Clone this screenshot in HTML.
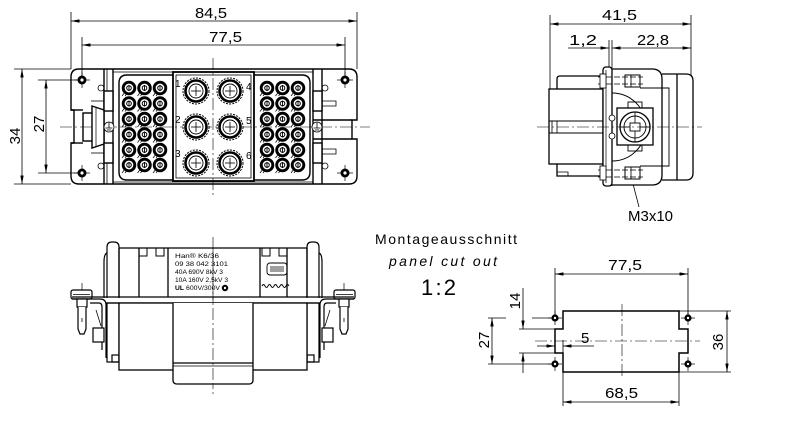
<!DOCTYPE html>
<html><head><meta charset="utf-8"><style>
html,body{margin:0;padding:0;background:#fff;}
svg{display:block;}
text{font-family:"Liberation Sans",sans-serif;fill:#000;stroke:none;}
</style></head><body>
<svg width="800" height="435" viewBox="0 0 800 435" xmlns="http://www.w3.org/2000/svg">
<defs>
<marker id="ar" viewBox="0 0 10 4" refX="10" refY="2" markerWidth="9" markerHeight="3.4" markerUnits="userSpaceOnUse" orient="auto-start-reverse"><path d="M0,0L10,2L0,4z" fill="#000"/></marker>
</defs>
<rect width="800" height="435" fill="#fff"/>

<!-- ================= TOP-LEFT VIEW ================= -->
<g fill="none" stroke="#000" stroke-width="0.8">
<line x1="71" y1="12" x2="71" y2="69"/>
<line x1="357" y1="12" x2="357" y2="69"/>
<line x1="71" y1="21" x2="357" y2="21" marker-start="url(#ar)" marker-end="url(#ar)"/>
<line x1="82" y1="37" x2="82" y2="80"/>
<line x1="345" y1="37" x2="345" y2="80"/>
<line x1="82" y1="45" x2="345" y2="45" marker-start="url(#ar)" marker-end="url(#ar)"/>
<line x1="14" y1="69" x2="71" y2="69"/>
<line x1="14" y1="184" x2="71" y2="184"/>
<line x1="22" y1="69" x2="22" y2="184" marker-start="url(#ar)" marker-end="url(#ar)"/>
<line x1="38" y1="80" x2="82" y2="80"/>
<line x1="38" y1="173" x2="82" y2="173"/>
<line x1="46" y1="80" x2="46" y2="173" marker-start="url(#ar)" marker-end="url(#ar)"/>
</g>
<text x="195" y="18" font-size="15" textLength="32" lengthAdjust="spacingAndGlyphs">84,5</text>
<text x="209" y="42" font-size="15" textLength="33" lengthAdjust="spacingAndGlyphs">77,5</text>
<text transform="translate(20,136) rotate(-90)" font-size="15" text-anchor="middle">34</text>
<text transform="translate(44,124) rotate(-90)" font-size="15" text-anchor="middle">27</text>

<!-- centerlines -->
<g stroke="#000" stroke-width="0.6" stroke-dasharray="12,3,2,3" fill="none">
<line x1="60" y1="127" x2="370" y2="127"/>
<line x1="213" y1="58" x2="213" y2="198"/>
</g>

<g fill="none" stroke="#000" stroke-width="1.4">
<path d="M79,69 H349 Q357,69 357,77 V120 H352 V139 H357 V176 Q357,184 349,184 H79 Q71,184 71,176 V143 H74 V110 H71 V77 Q71,69 79,69 Z"/>
<line x1="104" y1="69" x2="104" y2="184"/>
<line x1="107" y1="69" x2="107" y2="91" stroke-width="0.8"/>
<line x1="107" y1="163" x2="107" y2="184" stroke-width="0.8"/>
<line x1="113" y1="69" x2="113" y2="184"/>
<line x1="313" y1="69" x2="313" y2="184"/>
<line x1="322" y1="69" x2="322" y2="184"/>
<line x1="113" y1="72" x2="313" y2="72" stroke-width="0.7"/>
<line x1="113" y1="182" x2="313" y2="182" stroke-width="0.7"/>
<line x1="313" y1="120" x2="352" y2="120"/>
<line x1="313" y1="139" x2="352" y2="139"/>
<line x1="71" y1="110" x2="83" y2="110"/>
<line x1="71" y1="143" x2="83" y2="143"/>
<!-- left screw cylinder & lever -->
<rect x="83" y="113" width="10" height="28"/>
<path d="M92,106 L104,110 V144 L92,148 Z" fill="#fff"/>
<line x1="96" y1="108" x2="96" y2="146" stroke-width="0.7"/>
<!-- clips left -->
<rect x="104" y="91" width="9" height="20" fill="#fff"/>
<rect x="104" y="143" width="9" height="20" fill="#fff"/>
<line x1="91" y1="101" x2="104" y2="101" stroke-width="0.8"/>
<line x1="91" y1="153" x2="104" y2="153" stroke-width="0.8"/>
<circle cx="101" cy="88" r="3" stroke-width="0.8"/>
<circle cx="101" cy="166" r="3" stroke-width="0.8"/>
<!-- clips right -->
<rect x="313" y="91" width="9" height="20" fill="#fff"/>
<rect x="313" y="143" width="9" height="20" fill="#fff"/>
<path d="M322,101 H336 V106 H322" stroke-width="0.8"/>
<path d="M322,149 H336 V154 H322" stroke-width="0.8"/>
<circle cx="325" cy="88" r="3" stroke-width="0.8"/>
<circle cx="325" cy="166" r="3" stroke-width="0.8"/>
<!-- pin areas -->
<path d="M173,75 H127 Q119,75 119,83 V172 Q119,180 127,180 H173"/>
<path d="M254,75 H302 Q310,75 310,83 V172 Q310,180 302,180 H254"/>
<rect x="173" y="72" width="81" height="109" stroke-width="1.8"/>
<rect x="176" y="75" width="75" height="103" stroke-width="0.8"/>
</g>

<!-- ground symbols -->
<g fill="#fff" stroke="#000" stroke-width="0.8">
<circle cx="109" cy="127" r="5"/>
<circle cx="317" cy="127" r="5"/>
<path d="M109,122.5V128M105.5,128H112.5M107,130H111M317,122.5V128M313.5,128H320.5M315,130H319" fill="none"/>
</g>

<!-- mounting holes -->
<g stroke="#000" stroke-width="0.7">
<line x1="74" y1="80" x2="90" y2="80"/><line x1="82" y1="72" x2="82" y2="88"/>
<line x1="74" y1="173" x2="90" y2="173"/><line x1="82" y1="165" x2="82" y2="181"/>
<line x1="337" y1="80" x2="353" y2="80"/><line x1="345" y1="72" x2="345" y2="88"/>
<line x1="337" y1="173" x2="353" y2="173"/><line x1="345" y1="165" x2="345" y2="181"/>
</g>
<g fill="#000">
<circle cx="82" cy="80" r="4.5"/><circle cx="82" cy="173" r="4.5"/>
<circle cx="345" cy="80" r="4.5"/><circle cx="345" cy="173" r="4.5"/>
</g>
<g fill="#fff">
<circle cx="82" cy="80" r="1.6"/><circle cx="82" cy="173" r="1.6"/>
<circle cx="345" cy="80" r="1.6"/><circle cx="345" cy="173" r="1.6"/>
</g>

<!-- small pins -->
<defs>
<g id="sp">
<path d="M-7,8 L-4,4 M-4,8 L-1,4" stroke="#000" stroke-width="0.7" fill="none"/>
<circle r="5.8" fill="#fff" stroke="#000" stroke-width="2.9"/>
<circle r="2.3" fill="none" stroke="#000" stroke-width="1"/>
<line x1="0" y1="-3" x2="0" y2="3" stroke="#000" stroke-width="0.9"/>
</g>
<g id="row3">
<use href="#sp" x="0"/><use href="#sp" x="15.5"/><use href="#sp" x="31"/>
</g>
<g id="bp">
<circle r="13" fill="#fff" stroke="#000" stroke-width="1" stroke-dasharray="2,1.2"/>
<circle r="10.5" fill="#fff" stroke="#000" stroke-width="2.6"/>
<circle r="7" fill="none" stroke="#000" stroke-width="0.9"/>
<line x1="-5" y1="0" x2="5" y2="0" stroke="#000" stroke-width="0.8"/>
<line x1="0" y1="-5" x2="0" y2="5" stroke="#000" stroke-width="0.8"/>
</g>
</defs>
<use href="#row3" x="129" y="88"/><use href="#row3" x="129" y="103.5"/><use href="#row3" x="129" y="119"/>
<use href="#row3" x="129" y="134.5"/><use href="#row3" x="129" y="150"/><use href="#row3" x="129" y="165"/>
<use href="#row3" x="267" y="88"/><use href="#row3" x="267" y="103.5"/><use href="#row3" x="267" y="119"/>
<use href="#row3" x="267" y="134.5"/><use href="#row3" x="267" y="150"/><use href="#row3" x="267" y="165"/>
<use href="#bp" x="196" y="91"/><use href="#bp" x="196" y="127"/><use href="#bp" x="196" y="163"/>
<use href="#bp" x="230" y="91"/><use href="#bp" x="230" y="127"/><use href="#bp" x="230" y="163"/>
<g font-size="10">
<text x="175" y="87">1</text><text x="175" y="123">2</text><text x="175" y="157">3</text>
<text x="246" y="90">4</text><text x="246" y="124">5</text><text x="246" y="159">6</text>
</g>

<!-- ================= TOP-RIGHT VIEW ================= -->
<g fill="none" stroke="#000" stroke-width="0.8">
<line x1="550" y1="15" x2="550" y2="89"/>
<line x1="691" y1="15" x2="691" y2="76"/>
<line x1="550" y1="24" x2="691" y2="24" marker-start="url(#ar)" marker-end="url(#ar)"/>
<line x1="568" y1="48" x2="609" y2="48" marker-end="url(#ar)"/>
<line x1="612" y1="48" x2="691" y2="48" marker-start="url(#ar)" marker-end="url(#ar)"/>
<line x1="609" y1="40" x2="609" y2="186"/>
<line x1="612" y1="40" x2="612" y2="186"/>
<line x1="632" y1="180" x2="639" y2="207"/>
</g>
<text x="602" y="20" font-size="15" textLength="35" lengthAdjust="spacingAndGlyphs">41,5</text>
<text x="569" y="45" font-size="15" textLength="28" lengthAdjust="spacingAndGlyphs">1,2</text>
<text x="637" y="45" font-size="15" textLength="32" lengthAdjust="spacingAndGlyphs">22,8</text>
<text x="628" y="221" font-size="15" textLength="45" lengthAdjust="spacingAndGlyphs">M3x10</text>

<g fill="none" stroke="#000" stroke-width="1.3">
<rect x="549" y="89" width="54" height="75"/>
<path d="M603,89 V76 H560 Q557,76 557,79 V89"/>
<path d="M603,164 V176 H557 V164"/>
<path d="M557,172 H568 V176" stroke-width="0.8"/>
<line x1="549" y1="121" x2="603" y2="121" stroke-width="0.9"/>
<line x1="549" y1="133" x2="603" y2="133" stroke-width="0.9"/>
<path d="M552,121 V133 M557,121 V133" stroke-width="0.8"/>
<path d="M662,74 H686 Q693,74 693,81 V173 Q693,180 686,180 H662"/>
<line x1="677" y1="74" x2="677" y2="180"/>
<path d="M612,69 H652 Q662,69 662,79 V175 Q662,185 652,185 H612" fill="#fff"/>
<path d="M640,88 H669 V166 H640" stroke-width="0.9"/>
<path d="M612,93 A34,34 0 0 1 612,161" stroke-width="1"/>
<rect x="603" y="67" width="9" height="119" rx="3" fill="#fff"/>
<line x1="606" y1="70" x2="606" y2="183" stroke-width="0.7"/>
<circle cx="612" cy="118" r="3" stroke-width="0.8" fill="#fff"/>
<circle cx="612" cy="136" r="3" stroke-width="0.8" fill="#fff"/>
<!-- screws -->
<path d="M598,77 H643 M598,84 H643 M598,170 H643 M598,177 H643" stroke-width="0.8" stroke-dasharray="6,2"/>
<rect x="625" y="75" width="15" height="12" stroke-width="1"/>
<rect x="625" y="167" width="15" height="12" stroke-width="1"/>
<path d="M631,75V87M631,167V179" stroke-width="0.8"/>
<rect x="600" y="74" width="6" height="14" stroke-width="0.8" fill="#fff"/>
<rect x="600" y="166" width="6" height="14" stroke-width="0.8" fill="#fff"/>
<!-- center -->
<rect x="628" y="102" width="14" height="6" stroke-width="0.9"/>
<rect x="628" y="145" width="14" height="6" stroke-width="0.9"/>
<rect x="617" y="108" width="36" height="37" fill="#fff"/>
<circle cx="635" cy="127" r="15"/>
<circle cx="635" cy="127" r="11" stroke-width="0.9"/>
<rect x="630" y="123" width="10" height="8" stroke-width="0.9"/>
<path d="M635,112V123M635,131V142M620,127H630M640,127H650" stroke-width="0.8"/>
</g>
<line x1="537" y1="127" x2="702" y2="127" stroke="#000" stroke-width="0.6" stroke-dasharray="12,3,2,3"/>

<!-- ================= BOTTOM-LEFT VIEW ================= -->
<line x1="213" y1="237" x2="213" y2="396" stroke="#000" stroke-width="0.6" stroke-dasharray="12,3,2,3"/>
<defs>
<g id="clamp" fill="none" stroke="#000" stroke-width="1.2">
<path d="M107,298 V247 Q107,242 112,242 H114 Q119,242 119,247 V298" fill="#fff"/>
<path d="M107,253 Q104,254 104,262 V298"/>
<line x1="82" y1="283" x2="82" y2="291" stroke-width="0.7"/>
<rect x="71" y="290" width="21" height="9" rx="2" fill="#fff"/>
<line x1="73" y1="294.5" x2="90" y2="294.5" stroke-width="0.8"/>
<path d="M72,299 H100 Q106,299 106,305 V358"/>
<path d="M90,303 H99 Q102,303 102,307 V350"/>
<rect x="77" y="299" width="10" height="8" fill="#fff"/>
<path d="M78,307 V329 L80,334 H84 L86,329 V307" fill="#fff"/>
<line x1="82" y1="318" x2="82" y2="322" stroke-width="0.8"/>
<rect x="93" y="328" width="11" height="14" fill="#fff"/>
<path d="M96,310 L101,326" stroke-width="0.8"/>
<rect x="107" y="303" width="12" height="59" fill="#fff"/>
<rect x="112" y="355" width="7" height="7"/>
</g>
</defs>
<use href="#clamp"/>
<use href="#clamp" transform="translate(426,0) scale(-1,1)"/>
<g fill="none" stroke="#000" stroke-width="1.3">
<line x1="119" y1="248" x2="307" y2="248"/>
<line x1="119" y1="248" x2="119" y2="297"/>
<line x1="307" y1="248" x2="307" y2="297"/>
<line x1="72" y1="297" x2="354" y2="297"/>
<line x1="106" y1="303" x2="320" y2="303"/>
<rect x="119" y="303" width="188" height="67" fill="#fff"/>
<path d="M173,303 V380 Q173,384 177,384 H249 Q253,384 253,380 V303" fill="#fff"/>
<line x1="173" y1="363" x2="253" y2="363"/>
<line x1="173" y1="366" x2="253" y2="366" stroke-width="0.7"/>
<line x1="139" y1="248" x2="139" y2="297"/>
<line x1="168" y1="248" x2="168" y2="297"/>
<line x1="260" y1="248" x2="260" y2="297"/>
<line x1="287" y1="248" x2="287" y2="297"/>
<path d="M139,248 V256 H147 V248 M156,248 V256 H164 V248 M262,248 V256 H270 V248 M279,248 V256 H287 V248" stroke-width="1"/>
<rect x="267" y="263" width="20" height="12" rx="3" stroke-width="0.9"/>
<path d="M270,267H284M270,269H284M270,271H284" stroke-width="0.8"/>
<path d="M262,286 q1.5,-3 3,0 q1.5,3 3,0 q1.5,-3 3,0 q1.5,3 3,0 q1.5,-3 3,0 q1.5,3 3,0 q1.5,-3 3,0 q1.5,3 3,0 q1.5,-3 3,0" stroke-width="0.9"/>
</g>
<line x1="213" y1="248" x2="213" y2="384" stroke="#000" stroke-width="0.6" stroke-dasharray="12,3,2,3"/>
<g font-size="6.8">
<text x="175" y="258" textLength="44" lengthAdjust="spacingAndGlyphs">Han® K6/36</text>
<text x="175" y="266" textLength="53" lengthAdjust="spacingAndGlyphs">09 38 042 3101</text>
<text x="175" y="274" textLength="48" lengthAdjust="spacingAndGlyphs">40A 690V 8kV 3</text>
<text x="175" y="282" textLength="53" lengthAdjust="spacingAndGlyphs">10A 160V 2,5kV 3</text>
<text x="175" y="290" textLength="9" lengthAdjust="spacingAndGlyphs" font-weight="bold">UL</text>
<text x="186" y="290" textLength="34" lengthAdjust="spacingAndGlyphs">600V/300V</text>
</g>
<circle cx="225" cy="288" r="3.2" fill="#000"/>
<circle cx="225" cy="288" r="1.2" fill="#fff"/>

<!-- ================= MIDDLE TEXT ================= -->
<text x="375" y="244" font-size="14" textLength="142" lengthAdjust="spacing">Montageausschnitt</text>
<text x="389" y="266" font-size="14" font-style="italic" textLength="108" lengthAdjust="spacing">panel cut out</text>
<text x="421" y="295" font-size="22" textLength="35" lengthAdjust="spacing">1:2</text>

<!-- ================= BOTTOM-RIGHT CUTOUT ================= -->
<g fill="none" stroke="#000" stroke-width="0.8">
<line x1="555" y1="268" x2="555" y2="318"/>
<line x1="688" y1="268" x2="688" y2="318"/>
<line x1="555" y1="274" x2="688" y2="274" marker-start="url(#ar)" marker-end="url(#ar)"/>
<line x1="679" y1="311" x2="731" y2="311"/>
<line x1="679" y1="372" x2="731" y2="372"/>
<line x1="727" y1="311" x2="727" y2="372" marker-start="url(#ar)" marker-end="url(#ar)"/>
<line x1="563" y1="372" x2="563" y2="406"/>
<line x1="679" y1="372" x2="679" y2="406"/>
<line x1="563" y1="402" x2="679" y2="402" marker-start="url(#ar)" marker-end="url(#ar)"/>
<line x1="488" y1="318" x2="506" y2="318"/>
<line x1="532" y1="318" x2="555" y2="318"/>
<line x1="488" y1="364" x2="555" y2="364"/>
<line x1="492" y1="318" x2="492" y2="364" marker-start="url(#ar)" marker-end="url(#ar)"/>
<line x1="519" y1="329" x2="555" y2="329"/>
<line x1="519" y1="353" x2="555" y2="353"/>
<line x1="523" y1="288" x2="523" y2="329" marker-end="url(#ar)"/>
<line x1="523" y1="353" x2="523" y2="373" marker-start="url(#ar)"/>
<line x1="537" y1="346" x2="555" y2="346" marker-end="url(#ar)"/>
<line x1="563" y1="346" x2="594" y2="346" marker-start="url(#ar)"/>
<line x1="563" y1="340" x2="563" y2="353"/>
</g>
<text x="608" y="270" font-size="15" textLength="34" lengthAdjust="spacingAndGlyphs">77,5</text>
<text x="605" y="398" font-size="15" textLength="33" lengthAdjust="spacingAndGlyphs">68,5</text>
<text x="581" y="343" font-size="15">5</text>
<text transform="translate(723,342) rotate(-90)" font-size="15" text-anchor="middle">36</text>
<text transform="translate(489,340) rotate(-90)" font-size="15" text-anchor="middle">27</text>
<text transform="translate(520,301) rotate(-90)" font-size="15" text-anchor="middle">14</text>
<path d="M563,311 H679 V329 H688 V353 H679 V372 H563 V353 H555 V329 H563 Z" fill="none" stroke="#000" stroke-width="1.5"/>
<g stroke="#000" stroke-width="0.6" stroke-dasharray="12,3,2,3" fill="none">
<line x1="535" y1="341" x2="700" y2="341"/>
<line x1="622" y1="304" x2="622" y2="379"/>
</g>
<g stroke="#000" stroke-width="0.7">
<line x1="548" y1="318" x2="562" y2="318"/><line x1="555" y1="311" x2="555" y2="325"/>
<line x1="548" y1="364" x2="562" y2="364"/><line x1="555" y1="357" x2="555" y2="371"/>
<line x1="681" y1="318" x2="695" y2="318"/><line x1="688" y1="311" x2="688" y2="325"/>
<line x1="681" y1="364" x2="695" y2="364"/><line x1="688" y1="357" x2="688" y2="371"/>
</g>
<g fill="#000">
<circle cx="555" cy="318" r="3.6"/><circle cx="555" cy="364" r="3.6"/>
<circle cx="688" cy="318" r="3.6"/><circle cx="688" cy="364" r="3.6"/>
</g>
<g fill="#fff">
<circle cx="555" cy="318" r="1.2"/><circle cx="555" cy="364" r="1.2"/>
<circle cx="688" cy="318" r="1.2"/><circle cx="688" cy="364" r="1.2"/>
</g>
</svg>
</body></html>
